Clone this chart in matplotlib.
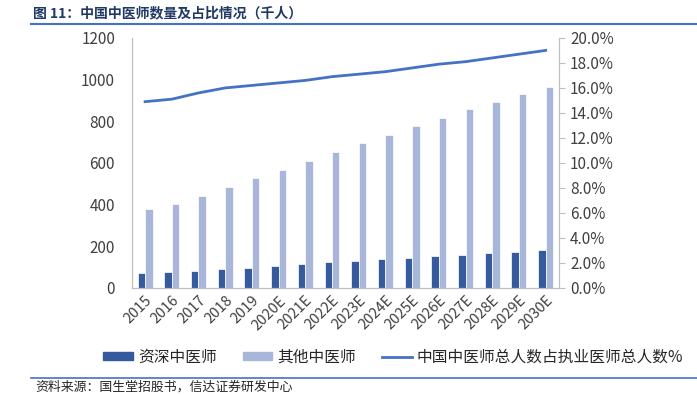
import matplotlib.pyplot as plt
import numpy as np
from matplotlib.lines import Line2D
from matplotlib.patches import Patch

plt.rcParams['font.family'] = ['Noto Sans CJK SC', 'DejaVu Sans']

years = ['2015', '2016', '2017', '2018', '2019', '2020E', '2021E', '2022E',
         '2023E', '2024E', '2025E', '2026E', '2027E', '2028E', '2029E', '2030E']
senior = [72, 77, 83, 89, 94, 106, 115, 123, 131, 137, 145, 154, 160, 168, 174, 181]
others = [379, 405, 443, 486, 529, 568, 610, 653, 696, 736, 778, 818, 857, 894, 931, 963]
share = [14.9, 15.1, 15.6, 16.0, 16.2, 16.4, 16.6, 16.9, 17.1, 17.3,
         17.6, 17.9, 18.1, 18.4, 18.7, 19.0]

dark = '#365a9e'
light = '#a8b6da'
line_c = '#4472c4'
txt = '#404040'
axis_c = '#bfbfbf'

fig = plt.figure(figsize=(6.97, 3.95), dpi=100)
ax = fig.add_axes([0.189, 0.271, 0.613, 0.633])
ax2 = ax.twinx()

x = np.arange(len(years))
w = 0.28
ax.bar(x - w / 2, senior, w, color=dark, edgecolor='white', linewidth=0.5, zorder=2)
ax.bar(x + w / 2, others, w, color=light, edgecolor='white', linewidth=0.5, zorder=2)
ax2.plot(x, share, color=line_c, linewidth=2)

ax.set_xlim(-0.5, len(years) - 0.5)
ax.set_ylim(0, 1200)
ax.set_yticks(range(0, 1201, 200))
ax2.set_ylim(0, 20)
ax2.set_yticks(np.arange(0, 20.1, 2))
ax2.set_yticklabels(['%.1f%%' % v for v in np.arange(0, 20.1, 2)])

ax.set_xticks(x)
ax.set_xticklabels(years, rotation=45, ha='right', rotation_mode='anchor')

for a in (ax, ax2):
    a.spines['top'].set_visible(False)
    for s in ('left', 'right', 'bottom'):
        a.spines[s].set_color(axis_c)
    a.tick_params(colors=txt, labelsize=11)
ax.tick_params(axis='y', length=0, pad=12)
ax.tick_params(axis='x', length=0, pad=4, labelsize=10.5)
ax2.tick_params(axis='y', length=4, color=axis_c, pad=4)

fig.text(0.047, 0.965, '图 11：中国中医师数量及占比情况（千人）', fontsize=10,
         fontweight='bold', color='#1f3864', va='center')
fig.add_artist(Line2D([0.045, 1.0], [0.94, 0.94], color='#4472c4', linewidth=1.5))

handles = [Patch(color=dark), Patch(color=light), Line2D([], [], color=line_c, linewidth=2)]
labels = ['资深中医师', '其他中医师', '中国中医师总人数占执业医师总人数%']
fig.legend(handles, labels, loc='center', bbox_to_anchor=(0.564, 0.096), ncol=3,
           frameon=False, fontsize=11.3, handlelength=1.9, handleheight=0.45,
           columnspacing=1.65, handletextpad=0.3, labelcolor='#262626')

fig.add_artist(Line2D([0.045, 1.0], [0.043, 0.043], color='#4472c4', linewidth=1.2))
fig.text(0.05, 0.02, '资料来源：国生堂招股书，信达证券研发中心', fontsize=9.3,
         style='italic', color='#262626', va='center')

fig.savefig('out.png', dpi=100)
